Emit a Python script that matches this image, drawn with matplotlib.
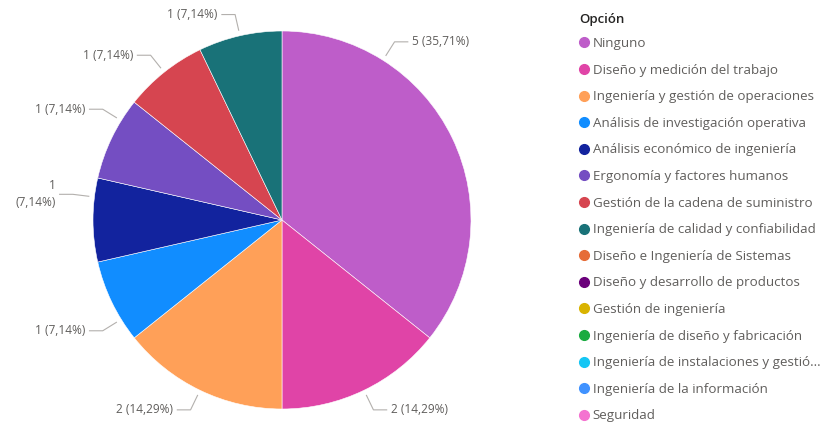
import numpy as np
import matplotlib
matplotlib.use("Agg")
import matplotlib.pyplot as plt
from matplotlib.lines import Line2D

plt.rcParams['font.family'] = ['Open Sans', 'DejaVu Sans']

categories = [
    'Ninguno',
    'Diseño y medición del trabajo',
    'Ingeniería y gestión de operaciones',
    'Análisis de investigación operativa',
    'Análisis económico de ingeniería',
    'Ergonomía y factores humanos',
    'Gestión de la cadena de suministro',
    'Ingeniería de calidad y confiabilidad',
    'Diseño e Ingeniería de Sistemas',
    'Diseño y desarrollo de productos',
    'Gestión de ingeniería',
    'Ingeniería de diseño y fabricación',
    'Ingeniería de instalaciones y gestió...',
    'Ingeniería de la información',
    'Seguridad',
]
counts = [5, 2, 2, 1, 1, 1, 1, 1, 0, 0, 0, 0, 0, 0, 0]
colors = ['#BE5DC9', '#E044A7', '#FFA058', '#118DFF', '#12239E', '#744EC2',
          '#D64550', '#197278', '#E66C37', '#6B007B', '#D9B300', '#1AAB40',
          '#15C6F4', '#4092FF', '#F472D0']

# layout tweaks for the data labels (degrees shift from mid angle, wrapped label)
label_shift = [32, 0, 0, 6, -7, -6, 0, 0]
wrap_label = [False, False, False, False, True, False, False, False]

label_color = '#605E5C'
total = sum(counts)

fig = plt.figure(figsize=(8.23, 4.25), dpi=100)
ax = fig.add_axes([93 / 823, 16 / 425, 378 / 823, 378 / 425])

nz = [i for i, c in enumerate(counts) if c > 0]
wedges, _ = ax.pie([counts[i] for i in nz], colors=[colors[i] for i in nz],
                   startangle=90, counterclock=False, radius=1.0,
                   wedgeprops=dict(linewidth=0.4, edgecolor='white'))
ax.set_xlim(-1, 1)
ax.set_ylim(-1, 1)

r0, r1, hlen, gap = 1.03, 1.115, 0.07, 0.022
for k, (w, i) in enumerate(zip(wedges, nz)):
    mid = (w.theta1 + w.theta2) / 2 + label_shift[k]
    a = np.radians(mid)
    x0, y0 = r0 * np.cos(a), r0 * np.sin(a)
    x1, y1 = r1 * np.cos(a), r1 * np.sin(a)
    side = 1 if np.cos(a) >= 0 else -1
    x2 = x1 + side * hlen
    ax.plot([x0, x1, x2], [y0, y1, y1], color='#B3B0AD', lw=0.8, clip_on=False)
    pct = f"{100 * counts[i] / total:.2f}".replace('.', ',')
    sep = '\n' if wrap_label[k] else ' '
    txt = f"{counts[i]}{sep}({pct}%)"
    ax.text(x2 + side * gap, y1, txt, ha='left' if side > 0 else 'right',
            va='center', fontsize=8.6, color=label_color,
            multialignment='right', linespacing=1.4)

fig.text(579 / 823, 1 - 20 / 425, 'Opción', ha='left', va='center',
         fontsize=9.5, fontweight='semibold', color='#252423')

handles = [Line2D([], [], marker='o', linestyle='', markersize=7,
                  markerfacecolor=c, markeredgecolor=c) for c in colors]
leg = fig.legend(handles, categories, loc='upper left',
                 bbox_to_anchor=(578 / 823, 1 - 37 / 425), frameon=False,
                 fontsize=9.6, labelspacing=1.02, handletextpad=0.2,
                 handlelength=0.9, borderaxespad=0, borderpad=0)
for t in leg.get_texts():
    t.set_color(label_color)

fig.savefig('out.png', dpi=100, facecolor='white')
